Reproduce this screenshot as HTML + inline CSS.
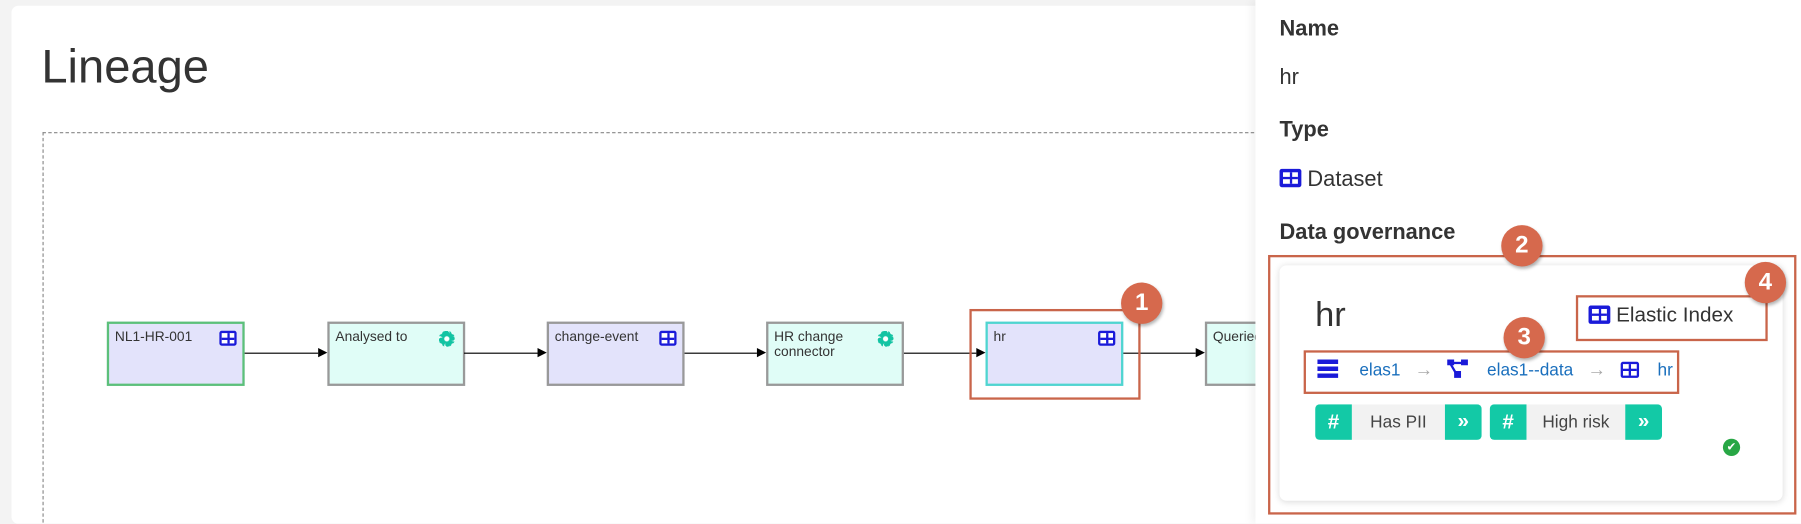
<!DOCTYPE html>
<html><head><style>
*{box-sizing:border-box;margin:0;padding:0}
html,body{width:1801px;height:524px;overflow:hidden}
body{background:#f3f3f3;font-family:"Liberation Sans",sans-serif;color:#333}
#w{position:absolute;left:0;top:0;width:1568px;height:456px;transform:scale(1.1486);transform-origin:0 0;overflow:hidden}
.abs{position:absolute}
.card{left:10px;top:5px;width:1100px;height:451px;background:#fff;border-radius:6px}
.node{position:absolute;top:280px;width:120px;height:56px;border:2px solid #999;font-size:12px;padding:5px 5px;color:#333;line-height:13px}
.ds{background:#e3e3fb}.pr{background:#e0fdf7}
.line{position:absolute;top:307px;height:1px;background:#000}
.arr{position:absolute;top:303px;width:0;height:0;border-left:8px solid #000;border-top:4px solid transparent;border-bottom:4px solid transparent}
.tico{position:absolute;right:5px;top:6px;width:15px;height:13px;background:#1a1ad9;border-radius:2px}
.tico:before{content:"";position:absolute;left:2px;top:2px;width:11px;height:9px;background:linear-gradient(#1a1ad9,#1a1ad9) 0 3.5px/100% 2px no-repeat,linear-gradient(#1a1ad9,#1a1ad9) 4.5px 0/2px 100% no-repeat,#fff}
.gear{position:absolute;right:7px;top:6px;width:14px;height:14px;border-radius:50%;border:4px dotted #13c4a3;background:radial-gradient(circle,#fff 0 2px,#13c4a3 2.5px)}
.ann{position:absolute;border:2px solid #c9654a}
.num{position:absolute;width:36px;height:36px;border-radius:50%;background:#d6694d;color:#fff;font-weight:bold;font-size:21px;text-align:center;line-height:36px;box-shadow:1px 2px 3px rgba(0,0,0,.3)}
.panel{left:1093px;top:0;width:475px;height:456px;background:#fff;box-shadow:-3px 0 8px rgba(0,0,0,.06)}
h3{position:absolute;font-size:19px;font-weight:bold;color:#333;left:1114px}
.val{position:absolute;left:1114px;font-size:19px;color:#333}
.tag{position:absolute;top:352px;height:31px;display:flex;font-size:15px;border-radius:4px;overflow:hidden}
.tag .h{width:32px;background:#13c9a6;color:#fff;font-weight:bold;text-align:center;line-height:31px;font-size:18px}
.tag .t{background:#f2f2f2;padding:0 12px;line-height:31px;color:#444}
.tag .c{width:32px;background:#13c9a6;color:#fff;text-align:center;line-height:29px;font-weight:bold;font-size:18px}
.link{color:#1a6fbd;font-size:15px}
</style></head><body><div id="w">
<div class="abs card"></div>
<div class="abs" style="left:36px;top:35px;font-size:41px;color:#333">Lineage</div>
<div class="abs" style="left:37px;top:115px;width:1100px;height:345px;border:1px dashed #888"></div>

<div class="node ds" style="left:93px;border-color:#5cc07a">NL1-HR-001<div class="tico"></div></div>
<div class="node pr" style="left:285px">Analysed to<span class="gear"></span></div>
<div class="node ds" style="left:476px">change-event<div class="tico"></div></div>
<div class="node pr" style="left:667px">HR change<br>connector<span class="gear"></span></div>
<div class="node ds" style="left:858px;border-color:#4fd5d0">hr<div class="tico"></div></div>
<div class="node pr" style="left:1049px">Queried</div>
<div class="line" style="left:213px;width:64px"></div><div class="arr" style="left:277px"></div>
<div class="line" style="left:404px;width:64px"></div><div class="arr" style="left:468px"></div>
<div class="line" style="left:596px;width:63px"></div><div class="arr" style="left:659px"></div>
<div class="line" style="left:787px;width:63px"></div><div class="arr" style="left:850px"></div>
<div class="line" style="left:978px;width:63px"></div><div class="arr" style="left:1041px"></div>
<div class="ann" style="left:844px;top:269px;width:149px;height:79px"></div>
<div class="num" style="left:976px;top:246px">1</div>

<div class="abs panel"></div>
<h3 style="top:15px">Name</h3>
<div class="val" style="top:57px">hr</div>
<h3 style="top:103px">Type</h3>
<div class="val" style="top:146px"><span style="display:inline-block;width:19px;height:16px;background:#1a1ad9;border-radius:2px;vertical-align:-1px;position:relative"><span style="position:absolute;left:3px;top:3px;width:13px;height:10px;background:linear-gradient(#1a1ad9,#1a1ad9) 0 4px/100% 2px no-repeat,linear-gradient(#1a1ad9,#1a1ad9) 5.5px 0/2px 100% no-repeat,#fff"></span></span> Dataset</div>
<h3 style="top:192px">Data governance</h3>
<div class="abs" style="left:1114px;top:231px;width:438px;height:205px;background:#fff;border-radius:6px;box-shadow:0 1px 6px rgba(0,0,0,.15)"></div>
<div class="abs" style="left:1145px;top:258px;font-size:30px;color:#333">hr</div>
<div class="abs" style="left:1383px;top:264px;font-size:18px;color:#333"><span style="display:inline-block;width:19px;height:16px;background:#1a1ad9;border-radius:2px;vertical-align:-2px;position:relative"><span style="position:absolute;left:3px;top:3px;width:13px;height:10px;background:linear-gradient(#1a1ad9,#1a1ad9) 0 4px/100% 2px no-repeat,linear-gradient(#1a1ad9,#1a1ad9) 5.5px 0/2px 100% no-repeat,#fff"></span></span> Elastic Index</div>
<div class="abs" style="left:1147px;top:313px;white-space:nowrap">
<span style="display:inline-block;width:18px;height:16px;background:repeating-linear-gradient(#1a1ad9 0 4px,#fff 4px 6px);vertical-align:-2px"></span>
<span class="link" style="margin-left:14px">elas1</span> <span style="color:#aaa;margin:0 8px">→</span>
<span style="display:inline-block;width:18px;height:16px;position:relative;vertical-align:-2px"><span style="position:absolute;left:0;top:0;width:6px;height:5px;background:#1a1ad9"></span><span style="position:absolute;right:0;top:0;width:6px;height:5px;background:#1a1ad9"></span><span style="position:absolute;left:6px;top:10px;width:6px;height:6px;background:#1a1ad9"></span><span style="position:absolute;left:3px;top:2px;width:12px;height:2px;background:#1a1ad9"></span><span style="position:absolute;left:4px;top:3px;width:2px;height:9px;background:#1a1ad9;transform:rotate(-30deg)"></span></span>
<span class="link" style="margin-left:12px">elas1--data</span> <span style="color:#aaa;margin:0 8px">→</span>
<span style="display:inline-block;width:16px;height:14px;background:#1a1ad9;border-radius:2px;vertical-align:-2px;position:relative"><span style="position:absolute;left:2px;top:2px;width:12px;height:10px;background:linear-gradient(#1a1ad9,#1a1ad9) 0 4px/100% 2px no-repeat,linear-gradient(#1a1ad9,#1a1ad9) 5px 0/2px 100% no-repeat,#fff"></span></span>
<span class="link" style="margin-left:12px">hr</span></div>
<div class="tag" style="left:1145px"><div class="h">#</div><div class="t" style="width:81px;text-align:center">Has PII</div><div class="c">»</div></div>
<div class="tag" style="left:1297px"><div class="h">#</div><div class="t" style="width:86px;text-align:center">High risk</div><div class="c">»</div></div>
<div class="abs" style="left:1500px;top:382px;width:15px;height:15px;border-radius:50%;background:#28a745;color:#fff;font-size:10px;text-align:center;line-height:15px">✔</div>

<div class="ann" style="left:1104px;top:222px;width:460px;height:226px"></div>
<div class="num" style="left:1307px;top:196px">2</div>
<div class="ann" style="left:1135px;top:305px;width:327px;height:38px"></div>
<div class="num" style="left:1309px;top:276px">3</div>
<div class="ann" style="left:1372px;top:257px;width:167px;height:40px"></div>
<div class="num" style="left:1519px;top:228px">4</div>
</div></body></html>
